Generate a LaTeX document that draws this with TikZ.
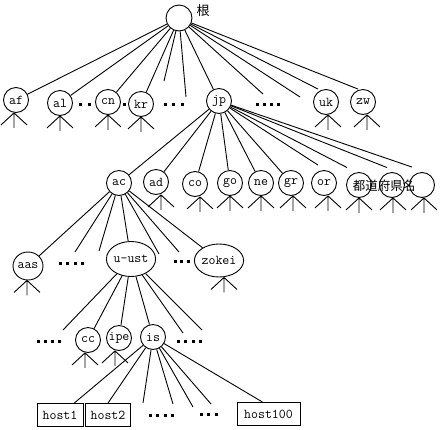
\documentclass[tikz,border=0pt]{standalone}
\usepackage{fontspec}
\newfontfamily\jafont{Noto Sans CJK JP}
\usetikzlibrary{shapes.geometric}
\newcommand\nlegs[2][0]{\draw[ln] ([xshift=#1pt]#2.south) -- ++(-13,12) ([xshift=#1pt]#2.south) -- ++(0,15) ([xshift=#1pt]#2.south) -- ++(13,12);}
\newcommand\dotrow[4]{\foreach \k in {1,...,#3}{\fill ({#1+(\k-1)*#4-1.5},{#2-1.5}) rectangle ++(3,3);}}
\begin{document}
\begin{tikzpicture}[x=1pt,y=-1pt,
  ln/.style={line width=0.9pt},
  lbl/.style={font=\fontsize{13.5}{15}\ttfamily},
  n/.style={circle,draw,line width=0.9pt,minimum size=25pt,inner sep=0pt,lbl},
  el/.style={ellipse,draw,line width=0.9pt,inner sep=0pt,lbl},
  hostbox/.style={rectangle,draw,line width=0.9pt,inner sep=0pt,minimum height=23pt,lbl},
  ja/.style={font=\jafont\fontsize{12.5}{14}\selectfont}]
\useasboundingbox (0,0) rectangle (444,429);
% root
\node[n,minimum size=26pt] (root) at (179,18) {};
\node[ja,font=\jafont\fontsize{13}{14}\selectfont] (gen) at (203,11) {根};
% level 1
\node[n] (af) at (16,100) {af};
\node[n] (al) at (60,103) {al};
\node[n] (cn) at (108,102) {cn};
\node[n] (kr) at (141,104) {kr};
\node[n] (jp) at (219,101) {jp};
\node[n] (uk) at (326,102) {uk};
\node[n] (zw) at (363,102) {zw};
% level 2
\node[n] (ac) at (119,183) {ac};
\node[n] (ad) at (156,182) {ad};
\node[n] (co) at (195,184) {co};
\node[n] (go) at (230,183) {go};
\node[n] (ne) at (261,183) {ne};
\node[n] (gr) at (291,183) {gr};
\node[n] (or) at (324,183) {or};
\node[n] (p1) at (359,185) {};
\node[n] (p2) at (392,185) {};
\node[n] (p3) at (422,185) {};
\node[ja] (pref) at (384,186) {都道府県名};
% level 3
\node[el,minimum width=30pt,minimum height=28pt] (aas) at (28,266) {aas};
\node[el,minimum width=42pt,minimum height=35pt] (uust) at (131,259) {u-ust};
\node[el,minimum width=42pt,minimum height=33pt] (zokei) at (219,260.5) {zokei};
% level 4
\node[n] (cc) at (88,340) {cc};
\node[n] (ipe) at (119,338) {ipe};
\node[n] (is) at (153,337) {is};
% hosts
\node[hostbox,minimum width=46pt] (host1) at (60,415) {host1};
\node[hostbox,minimum width=45pt] (host2) at (108,415) {host2};
\node[hostbox,minimum width=63pt] (host100) at (268.5,414) {host100};
% free ends
\coordinate (r1) at (164,81);
\coordinate (r2) at (186,97);
\coordinate (r3) at (263,94);
\coordinate (r4) at (300,97);
\coordinate (a1) at (75,252);
\coordinate (a2) at (99,251);
\coordinate (a3) at (159,254);
\coordinate (a4) at (179,252);
\coordinate (u1) at (63,330);
\coordinate (u2) at (183,333);
\coordinate (u3) at (202,330);
\coordinate (i1) at (143,403);
\coordinate (i2) at (173,404);
\coordinate (i3) at (193,407);
\coordinate (i4) at (211,404);
% root connectors
\draw[ln] (root) -- (af);
\draw[ln] (root) -- (al);
\draw[ln] (root) -- (cn);
\draw[ln] (root) -- (kr);
\draw[ln] (root) -- (r1);
\draw[ln] (root) -- (r2);
\draw[ln] (root) -- (jp);
\draw[ln] (root) -- (r3);
\draw[ln] (root) -- (r4);
\draw[ln] (root) -- ([xshift=-8pt]uk.north);
\draw[ln] (root) -- ([xshift=-5pt]zw.north);
% jp connectors
\draw[ln] (jp) -- (ac);
\draw[ln] (jp) -- (ad);
\draw[ln] (jp) -- (co);
\draw[ln] (jp) -- (go);
\draw[ln] (jp) -- (ne);
\draw[ln] (jp) -- (gr);
\draw[ln] (jp) -- ([xshift=-6pt,yshift=5pt]or.north);
\draw[ln] (jp) -- ([xshift=-12pt,yshift=4.5pt]p1.north);
\draw[ln] (jp) -- ([xshift=-5pt,yshift=4.5pt]p2.north);
\draw[ln] (jp) -- ([xshift=-10pt,yshift=5pt]p3.north);
% ac connectors
\draw[ln] (ac) -- (aas);
\draw[ln] (ac) -- (a1);
\draw[ln] (ac) -- (a2);
\draw[ln] (ac) -- (uust);
\draw[ln] (ac) -- (a3);
\draw[ln] (ac) -- (a4);
\draw[ln] (ac) -- (zokei);
% u-ust connectors
\draw[ln] (uust) -- (u1);
\draw[ln] (uust) -- (cc);
\draw[ln] (uust) -- (ipe);
\draw[ln] (uust) -- (is);
\draw[ln] (uust) -- (u2);
\draw[ln] (uust) -- (u3);
% is connectors
\draw[ln] (is) -- (host1);
\draw[ln] (is) -- (host2.north);
\draw[ln] (is) -- (i1);
\draw[ln] (is) -- (i2);
\draw[ln] (is) -- (i3);
\draw[ln] (is) -- (i4);
\draw[ln] (is) -- ([xshift=-6pt]host100.north);
% legs
\nlegs[-2]{af}
\nlegs{al}
\nlegs{cn}
\nlegs{kr}
\nlegs[2]{uk}
\nlegs[4]{zw}
\nlegs[5]{ad}
\nlegs[5]{co}
\nlegs{go}
\nlegs{ne}
\nlegs[2]{gr}
\nlegs[4]{or}
\nlegs{p1}
\nlegs[1]{p2}
\nlegs[2]{p3}
\nlegs[-1]{aas}
\nlegs[5]{zokei}
\nlegs[-3]{cc}
\nlegs[-4]{ipe}
% dots
\dotrow{80}{104}{2}{9}
\dotrow{124}{104}{1}{0}
\dotrow{165}{104}{3}{8.5}
\dotrow{257}{104}{4}{7.3}
\dotrow{60}{263}{4}{7.5}
\dotrow{175}{261}{3}{6.5}
\dotrow{38}{341}{4}{7.3}
\dotrow{178.5}{341}{4}{7.3}
\dotrow{150}{415}{4}{7.5}
\dotrow{201.5}{414}{3}{7.3}
\end{tikzpicture}
\end{document}
